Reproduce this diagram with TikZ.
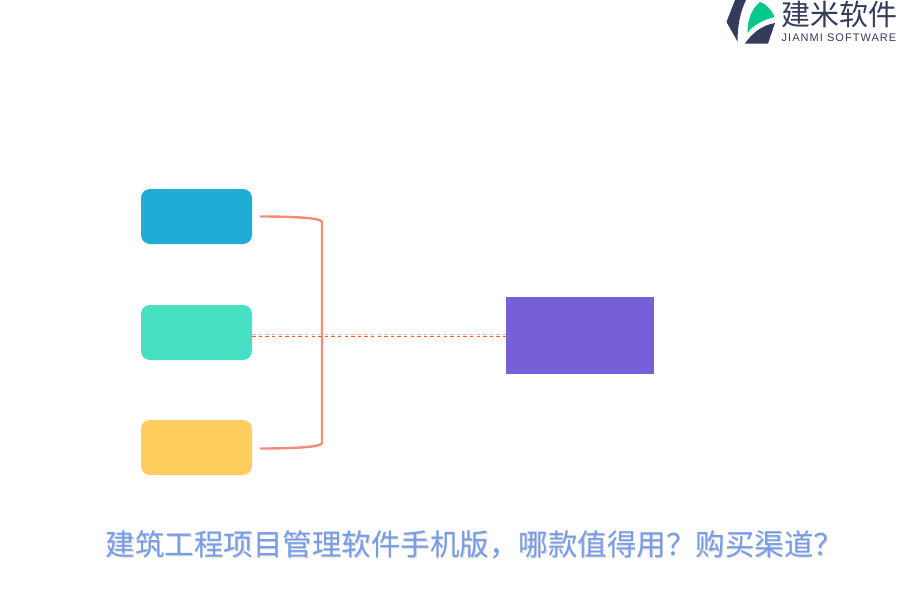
\documentclass[tikz,border=0pt]{standalone}
\usepackage{fontspec}
\setmainfont{Liberation Sans}
\newfontfamily\cjk{Noto Sans CJK SC}
\usetikzlibrary{shapes}
\definecolor{bluebox}{HTML}{1FADD5}
\definecolor{greenbox}{HTML}{47E0C2}
\definecolor{yellowbox}{HTML}{FFCC5E}
\definecolor{purplebox}{HTML}{775FDA}
\definecolor{linkcol}{HTML}{F58C74}
\definecolor{titlecol}{HTML}{769CEA}
\definecolor{logodark}{HTML}{343B5C}
\definecolor{logogreen}{HTML}{05C88C}
\tikzset{
  item/.style={draw=none,rounded corners=9bp,minimum width=111bp,minimum height=55bp,inner sep=0pt},
  link/.style={draw=linkcol,line width=2.4bp},
  dots/.style={line width=1.5bp,dash pattern=on 3.3bp off 3.3bp},
  titletext/.style={font=\cjk\fontsize{29.5bp}{32bp}\selectfont,inner sep=0pt},
}
\begin{document}
\begin{tikzpicture}
\useasboundingbox (0bp,0bp) rectangle (900bp,-600bp);
\node (Blue) at (196.5bp,-216.5bp)[item,fill=bluebox] {};
\node (Green) at (196.5bp,-332.5bp)[item,fill=greenbox] {};
\node (Yellow) at (196.5bp,-447.5bp)[item,fill=yellowbox] {};
\node (Buy) at (580bp,-335.5bp)[draw=none,fill=purplebox,minimum width=148bp,minimum height=77bp,inner sep=0pt] {};
\coordinate (BlueEnd) at (260bp,-216.5bp);
\coordinate (YellowEnd) at (260bp,-448.5bp);
\draw [link] (BlueEnd) .. controls (295bp,-216.5bp) and (322bp,-218bp) .. (322bp,-222bp) -- (322bp,-443bp) .. controls (322bp,-447bp) and (295bp,-448.5bp) .. (YellowEnd);
\draw [dots,draw=linkcol!70] ([yshift=1bp]Green.east |- Buy.west) -- ([yshift=1bp]Buy.west);
\draw [dots,draw=red!50!orange!85] ([yshift=-1bp]Green.east |- Buy.west) -- ([yshift=-1bp]Buy.west);
% title with soft shadow
\node (TitleShade) at (475.2bp,-545.7bp)[text=black!18,titletext] {建筑工程项目管理软件手机版，哪款值得用？购买渠道？};
\node (Title) at (474.5bp,-544.7bp)[text=titlecol,titletext] {建筑工程项目管理软件手机版，哪款值得用？购买渠道？};
% logo
\fill [logodark] (735bp,0bp) -- (746bp,0bp) .. controls (741bp,-10bp) and (737.5bp,-24bp) .. (737.5bp,-41.5bp) -- (726.5bp,-22bp) -- cycle;
\fill [logogreen] (760bp,-2bp) .. controls (766bp,-4bp) and (772bp,-10bp) .. (774.5bp,-17bp) .. controls (763bp,-20bp) and (753bp,-25bp) .. (747.5bp,-33bp) .. controls (747bp,-22bp) and (751bp,-9bp) .. cycle;
\fill [logodark] (745bp,-43.5bp) -- (768bp,-43.5bp) -- (775bp,-23bp) .. controls (763bp,-25bp) and (753bp,-32bp) .. cycle;
\node (Brand) at (839.5bp,-14bp)[text=logodark,font=\cjk\fontsize{29bp}{30bp}\selectfont,inner sep=0pt] {建米软件};
\node (BrandEn) at (839bp,-38bp)[text=logodark,font=\fontsize{11bp}{12bp}\selectfont\addfontfeatures{LetterSpace=9.5},inner sep=0pt] {JIANMI SOFTWARE};
\end{tikzpicture}
\end{document}
